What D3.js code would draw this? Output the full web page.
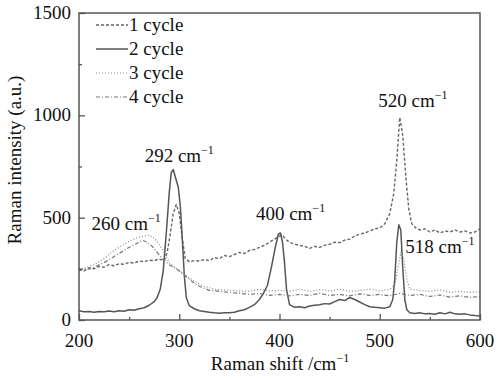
<!DOCTYPE html>
<html>
<head>
<meta charset="utf-8">
<script src="https://cdn.jsdelivr.net/npm/d3@7"></script>
</head>
<body style="margin:0">
<svg id="raman" width="500" height="378"></svg>
<script>
// Raman spectra, [shift (cm-1), intensity (a.u.)]
const cycle1 = [
  [200,250],[205,240],[210,255],[215,250],[220,262],[225,258],[230,270],[235,265],[240,275],[245,272],
  [250,282],[255,278],[260,288],[265,285],[270,292],[275,290],[280,298],[285,290],[288,330],[291,420],
  [294,520],[297,565],[300,520],[303,400],[306,300],[310,285],[315,290],[320,288],[325,295],[330,290],
  [335,305],[340,300],[345,315],[350,310],[355,320],[360,330],[365,325],[370,340],[375,345],[380,355],
  [385,365],[390,380],[395,395],[400,410],[403,415],[406,395],[410,380],[415,370],[420,365],[425,360],
  [430,350],[435,360],[440,355],[445,365],[450,370],[455,380],[460,378],[465,390],[470,395],[475,410],
  [480,420],[485,425],[490,435],[495,445],[500,450],[505,470],[510,520],[514,620],[517,780],[520,990],
  [523,900],[526,700],[529,540],[532,470],[536,450],[540,440],[545,445],[550,430],[555,440],[560,425],
  [565,435],[570,430],[575,440],[580,430],[585,435],[590,425],[595,430],[600,445]
];
const cycle2 = [
  [200,45],[205,40],[210,42],[215,38],[220,42],[225,40],[230,44],[235,40],[240,45],[245,43],
  [250,50],[255,48],[260,55],[265,60],[270,72],[275,90],[278,110],[281,150],[284,240],[287,420],
  [290,620],[292,720],[294,735],[296,700],[299,650],[301,560],[303,400],[305,220],[307,110],[310,70],
  [315,55],[320,45],[325,42],[330,38],[335,35],[340,33],[345,36],[350,35],[355,38],[360,45],
  [365,50],[370,62],[375,75],[380,100],[384,130],[388,170],[392,260],[396,360],[399,420],[401,425],
  [403,380],[405,280],[407,150],[410,75],[415,62],[420,65],[425,60],[430,68],[435,72],[440,75],
  [445,80],[450,78],[455,90],[460,100],[465,95],[470,110],[475,100],[480,88],[485,75],[490,65],
  [495,62],[500,60],[505,58],[510,65],[513,100],[515,200],[517,380],[519,465],[521,440],[523,250],
  [525,100],[527,50],[530,35],[535,32],[540,35],[545,30],[550,32],[555,28],[560,35],[565,30],
  [570,38],[575,30],[580,28],[585,30],[590,25],[595,22],[600,20]
];
const cycle3 = [
  [200,255],[205,250],[210,262],[215,270],[220,285],[225,300],[230,320],[235,340],[240,355],[245,370],
  [250,385],[255,395],[260,405],[265,410],[270,415],[275,400],[280,370],[285,330],[290,280],[295,260],
  [300,240],[305,225],[310,205],[315,190],[320,175],[325,165],[330,158],[335,150],[340,148],[350,145],
  [360,142],[370,140],[380,150],[390,142],[400,145],[410,140],[420,150],[430,140],[440,148],[450,142],
  [460,150],[470,140],[480,145],[490,150],[500,142],[510,150],[515,170],[518,250],[521,330],[524,300],
  [527,200],[530,150],[540,145],[550,140],[560,148],[570,135],[580,140],[590,135],[600,138]
];
const cycle4 = [
  [200,240],[205,250],[210,248],[215,258],[220,270],[225,280],[230,295],[235,310],[240,325],[245,340],
  [250,355],[255,368],[260,380],[263,390],[268,380],[273,360],[278,330],[283,300],[290,270],[295,255],
  [300,240],[305,220],[310,200],[315,180],[320,165],[325,155],[330,145],[340,140],[350,135],[360,130],
  [370,125],[380,130],[390,120],[400,125],[410,118],[420,125],[430,120],[440,130],[450,120],[460,125],
  [470,118],[480,128],[490,120],[500,125],[510,118],[520,130],[530,120],[540,125],[550,115],[560,122],
  [570,112],[580,118],[590,110],[600,115]
];

const seriesNames = ["1 cycle", "2 cycle", "3 cycle", "4 cycle"];
const seriesData = [cycle1, cycle2, cycle3, cycle4];
const xTicks = [200, 300, 400, 500, 600];
const xMinorTicks = [250, 350, 450, 550];
const yTicks = [0, 500, 1000, 1500];
const yMinorTicks = [250, 750, 1250];

// peak labels: [wavenumber text, label centre shift, label baseline intensity]
const peakLabels = [
  ["292", 300, 772],
  ["260", 247, 440],
  ["400", 411, 489],
  ["520", 533, 1040],
  ["518", 560, 327]
];

const styles = [
  { stroke: "#666", width: 1.4, dash: "3,2" },
  { stroke: "#555", width: 1.5, dash: null },
  { stroke: "#888", width: 1.2, dash: "1,2" },
  { stroke: "#777", width: 1.2, dash: "4,2,1,2" }
];

const FONT = "'Liberation Serif'";
const FS = 19;

const svg = d3.select("#raman");
const margin = { top: 13, right: 20, bottom: 58, left: 79 };
const W = 500, H = 378;

const x = d3.scaleLinear().domain([200, 600]).range([margin.left, W - margin.right]);
const y = d3.scaleLinear().domain([0, 1500]).range([H - margin.bottom, margin.top]);

const line = d3.line().x(d => x(d[0])).y(d => y(d[1]));

// adds a text node with the serif font set the same way each time
function label(parent, str) {
  return parent.append("text")
    .attr("font-size", FS)
    .attr("fill", "#111")
    .style("font-family", FONT)
    .text(str);
}

const plot = svg.append("g");
seriesData.forEach((data, i) => {
  const s = styles[i];
  plot.append("path")
    .datum(data)
    .attr("fill", "none")
    .attr("stroke", s.stroke)
    .attr("stroke-width", s.width)
    .attr("stroke-dasharray", s.dash)
    .attr("stroke-linejoin", "round")
    .attr("d", line);
});

// frame
svg.append("rect")
  .attr("x", x(200)).attr("y", y(1500))
  .attr("width", x(600) - x(200)).attr("height", y(0) - y(1500))
  .attr("fill", "none").attr("stroke", "#555").attr("stroke-width", 1.5);

// inward ticks, labels drawn separately
const xAxis = svg.append("g").attr("transform", `translate(0,${y(0)})`);
xAxis.call(d3.axisBottom(x).tickValues(xTicks).tickSize(-6).tickFormat(""));
xAxis.append("g").call(d3.axisBottom(x).tickValues(xMinorTicks).tickSize(-3).tickFormat(""));

const yAxis = svg.append("g").attr("transform", `translate(${x(200)},0)`);
yAxis.call(d3.axisLeft(y).tickValues(yTicks).tickSize(-6).tickFormat(""));
yAxis.append("g").call(d3.axisLeft(y).tickValues(yMinorTicks).tickSize(-3).tickFormat(""));

svg.selectAll(".domain").remove();
svg.selectAll(".tick text").remove();
svg.selectAll(".tick line").attr("stroke", "#555").attr("stroke-width", 1.3);

xTicks.forEach(v => {
  label(svg, String(v))
    .attr("x", x(v)).attr("y", y(0) + 27)
    .attr("text-anchor", "middle");
});
yTicks.forEach(v => {
  label(svg, String(v))
    .attr("x", x(200) - 8).attr("y", y(v) + 6)
    .attr("text-anchor", "end");
});

// axis titles
const xTitle = label(svg, "Raman shift /cm")
  .attr("x", 280).attr("y", 370)
  .attr("text-anchor", "middle");
xTitle.append("tspan").attr("dy", -8).attr("font-size", 12).text("−1");

label(svg, "Raman intensity (a.u.)")
  .attr("transform", `translate(21,160) rotate(-90)`)
  .attr("text-anchor", "middle");

// legend
seriesNames.forEach((name, i) => {
  const ly = 25 + i * 24;
  const s = styles[i];
  svg.append("line")
    .attr("x1", 96).attr("x2", 128).attr("y1", ly).attr("y2", ly)
    .attr("stroke", s.stroke).attr("stroke-width", s.width)
    .attr("stroke-dasharray", s.dash);
  label(svg, name).attr("x", 129).attr("y", ly + 6);
});

// peak annotations
peakLabels.forEach(([num, sx, sy]) => {
  const t = label(svg, num + " cm")
    .attr("x", x(sx)).attr("y", y(sy))
    .attr("text-anchor", "middle");
  t.append("tspan").attr("dy", -8).attr("font-size", 12).text("−1");
});
</script>
</body>
</html>
